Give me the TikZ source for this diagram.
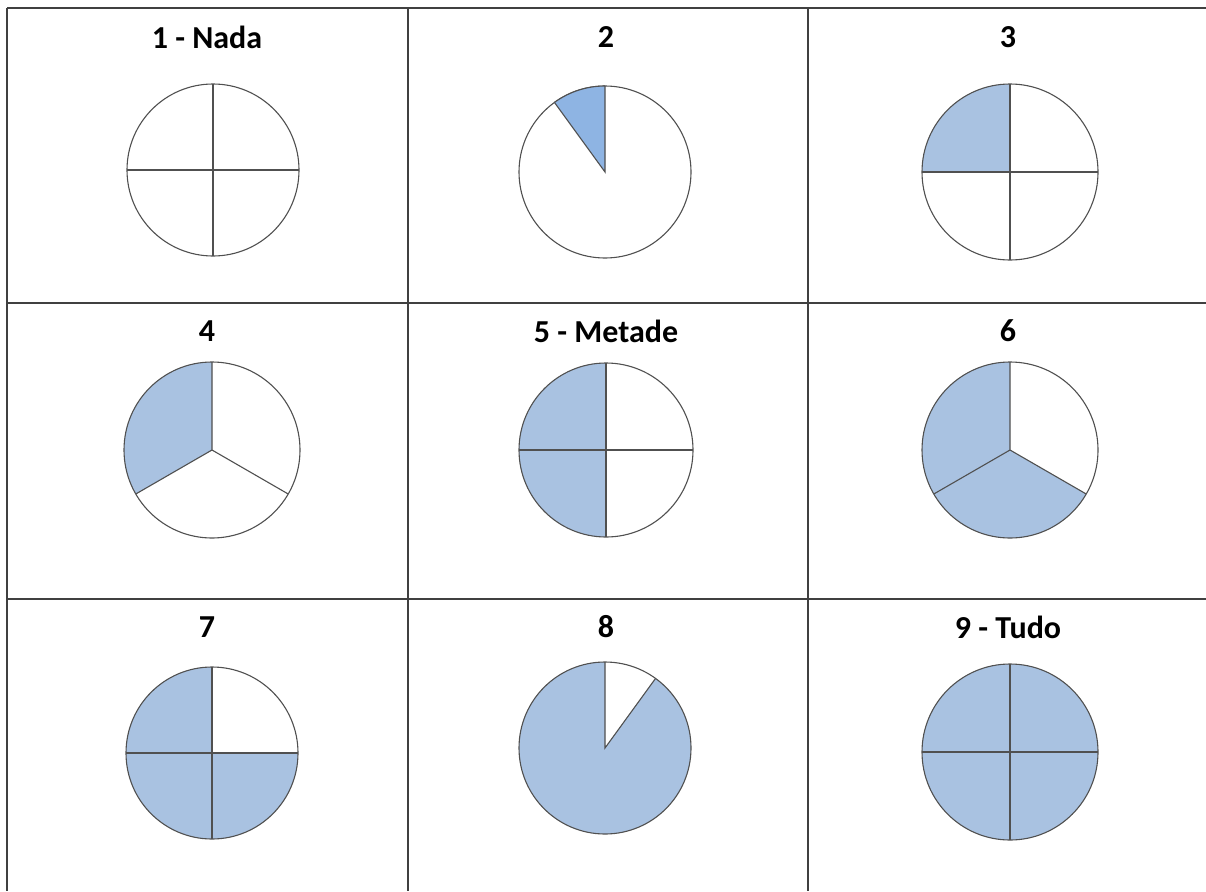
\documentclass[tikz,border=0pt]{standalone}
\usepackage{fontspec}
\setmainfont{Carlito}
\definecolor{pieblue}{RGB}{169,194,225}
\definecolor{pieblue2}{RGB}{142,180,227}
\definecolor{gridc}{RGB}{64,64,64}
\definecolor{piec}{RGB}{80,80,80}
\tikzset{
  gridline/.style={draw=gridc, line width=1.6pt},
  pieline/.style={draw=piec, line width=1.1pt},
  title/.style={font=\fontsize{32}{34}\selectfont\bfseries, anchor=center, inner sep=0pt}
}
\begin{document}
\begin{tikzpicture}[x=1pt,y=-1pt]
\useasboundingbox (0,0) rectangle (1206,891);
\fill[white] (0,0) rectangle (1206,891);
% grid
\draw[gridline] (7,8) -- (1206,8);
\draw[gridline] (7,303) -- (1206,303);
\draw[gridline] (7,599) -- (1206,599);
\draw[gridline] (7,8) -- (7,891);
\draw[gridline] (408,8) -- (408,891);
\draw[gridline] (808,8) -- (808,891);
% titles
\node[title] (t1) at (207,37) {1 - Nada};
\node[title] (t2) at (606,37) {2};
\node[title] (t3) at (1008,37) {3};
\node[title] (t4) at (207,331) {4};
\node[title] (t5) at (606,331) {5 - Metade};
\node[title] (t6) at (1008,331) {6};
\node[title] (t7) at (207,627) {7};
\node[title] (t8) at (606,627) {8};
\node[title] (t9) at (1008,627) {9 - Tudo};
% 1
\begin{scope}[shift={(213,170)}]
\draw[pieline] (0,0) circle[radius=86];
\draw[pieline] (-86,0) -- (86,0) (0,-86) -- (0,86);
\end{scope}
% 2
\begin{scope}[shift={(605,172)}]
\draw[pieline] (0,0) circle[radius=86];
\fill[pieblue2] (0,0) -- (0,-86) arc[start angle=-90, end angle=-126, radius=86] -- cycle;
\draw[pieline] (0,-86) -- (0,0) -- (-126:86);
\draw[pieline] (0,-86) arc[start angle=-90, end angle=-126, radius=86];
\end{scope}
% 3
\begin{scope}[shift={(1010,172)}]
\fill[pieblue] (0,0) -- (-88,0) arc[start angle=180, end angle=270, radius=88] -- cycle;
\draw[pieline] (0,0) circle[radius=88];
\draw[pieline] (-88,0) -- (88,0) (0,-88) -- (0,88);
\end{scope}
% 4
\begin{scope}[shift={(212,450)}]
\fill[pieblue] (0,0) -- (0,-88) arc[start angle=-90, end angle=-210, radius=88] -- cycle;
\draw[pieline] (0,0) circle[radius=88];
\draw[pieline] (0,0) -- (-90:88) (0,0) -- (-210:88) (0,0) -- (30:88);
\end{scope}
% 5
\begin{scope}[shift={(606,450)}]
\fill[pieblue] (0,-87) arc[start angle=-90, end angle=-270, radius=87] -- cycle;
\draw[pieline] (0,0) circle[radius=87];
\draw[pieline] (-87,0) -- (87,0) (0,-87) -- (0,87);
\end{scope}
% 6
\begin{scope}[shift={(1010,450)}]
\fill[pieblue] (0,0) -- (0,-88) arc[start angle=-90, end angle=-330, radius=88] -- cycle;
\draw[pieline] (0,0) circle[radius=88];
\draw[pieline] (0,0) -- (-90:88) (0,0) -- (-210:88) (0,0) -- (30:88);
\end{scope}
% 7
\begin{scope}[shift={(212,753)}]
\fill[pieblue] (0,0) -- (0,-86) arc[start angle=-90, end angle=-360, radius=86] -- cycle;
\draw[pieline] (0,0) circle[radius=86];
\draw[pieline] (-86,0) -- (86,0) (0,-86) -- (0,86);
\end{scope}
% 8
\begin{scope}[shift={(605,748)}]
\fill[pieblue] (0,0) -- (0,-86) arc[start angle=-90, end angle=-414, radius=86] -- cycle;
\draw[pieline] (0,0) circle[radius=86];
\draw[pieline] (0,-86) -- (0,0) -- (-54:86);
\end{scope}
% 9
\begin{scope}[shift={(1010,752)}]
\fill[pieblue] (0,0) circle[radius=88];
\draw[pieline] (0,0) circle[radius=88];
\draw[pieline] (-88,0) -- (88,0) (0,-88) -- (0,88);
\end{scope}
\end{tikzpicture}
\end{document}
